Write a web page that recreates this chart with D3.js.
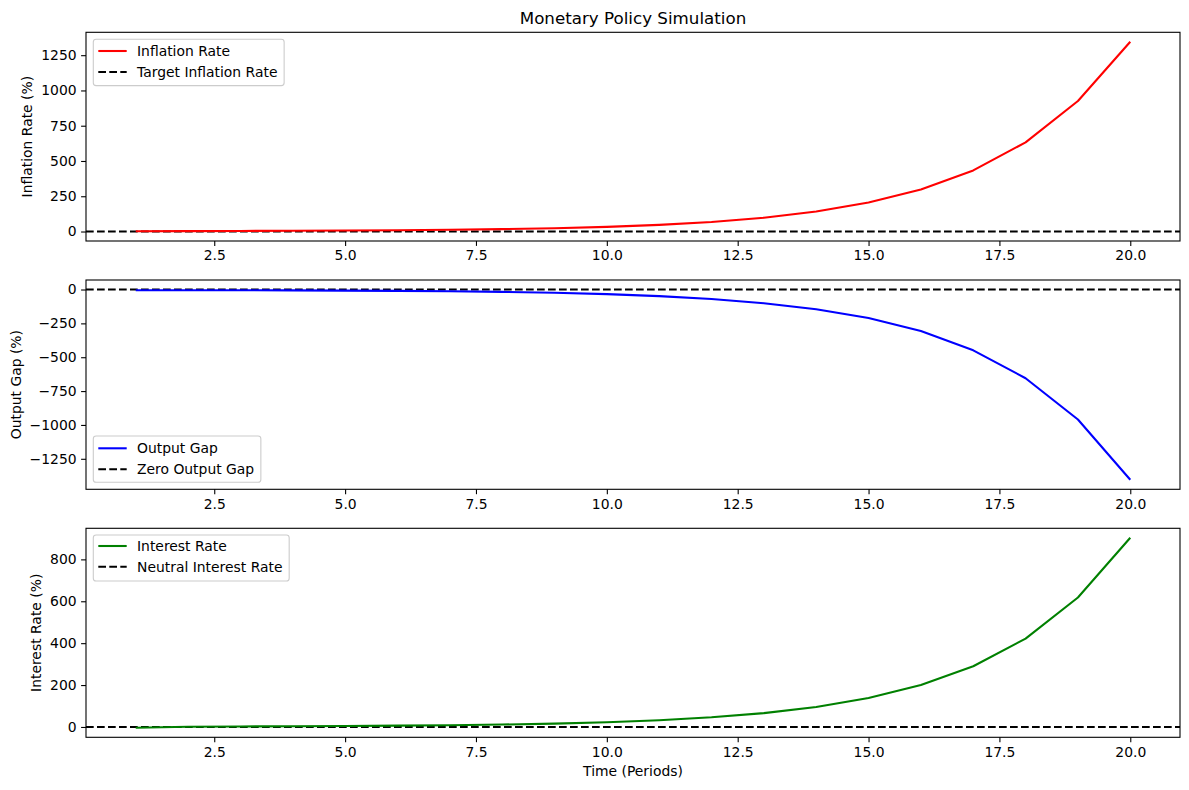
<!DOCTYPE html>
<html><head><meta charset="utf-8">
<script src="https://cdn.jsdelivr.net/npm/d3@7"></script>
<style>
body{margin:0;background:#fff;}
text{font-family:"DejaVu Sans",sans-serif;fill:#000;}
</style></head>
<body>
<svg id="chart" width="1189" height="790"></svg>
<script>
const periods = [1,2,3,4,5,6,7,8,9,10,11,12,13,14,15,16,17,18,19,20];
const inflation = [2.0,3.0,4.2,5.4,7.0,9.3,12.5,17,23.5,33,47,68,98,142,205,298,433,632,925,1345];
const outputGap = [-5,-5,-5.5,-6.5,-8,-10,-13,-17.5,-24,-34,-49,-70,-101,-146,-211,-307,-449,-655,-960,-1405];
const interest = [-4,1,2.5,3.5,4.8,6.3,8.5,11.5,16,22.5,32,46,66,95,138,200,290,422,618,903];
const targetInflation = 0;
const zeroGap = 0;
const neutralRate = 0;
const xTicks = [2.5,5.0,7.5,10.0,12.5,15.0,17.5,20.0];
const yTicks1 = [0,250,500,750,1000,1250];
const yTicks2 = [0,-250,-500,-750,-1000,-1250];
const yTicks3 = [0,200,400,600,800];

const svg = d3.select("#chart");
const L = 86, R = 1180;
const panels = [
  {top:32.3,bottom:241,data:inflation,ref:targetInflation,color:"#ff0000",ticks:yTicks1,
   ylabel:"Inflation Rate (%)",ylx:32.3,names:["Inflation Rate","Target Inflation Rate"],
   leg:{y:39.3,r1:51,r2:72}},
  {top:280,bottom:489.3,data:outputGap,ref:zeroGap,color:"#0000ff",ticks:yTicks2,
   ylabel:"Output Gap (%)",ylx:20.5,names:["Output Gap","Zero Output Gap"],
   leg:{y:436,r1:448.3,r2:469.3}},
  {top:528.3,bottom:737.3,data:interest,ref:neutralRate,color:"#008000",ticks:yTicks3,
   ylabel:"Interest Rate (%)",ylx:40.7,names:["Interest Rate","Neutral Interest Rate"],
   leg:{y:535,r1:546,r2:566.7}}
];

const xMin = d3.min(periods), xMax = d3.max(periods);
const xPad = (xMax - xMin)*0.05;
const x = d3.scaleLinear().domain([xMin - xPad, xMax + xPad]).range([L, R]);

panels.forEach(p => {
  const lo = Math.min(d3.min(p.data), p.ref), hi = Math.max(d3.max(p.data), p.ref);
  const pad = (hi - lo)*0.05;
  const y = d3.scaleLinear().domain([lo - pad, hi + pad]).range([p.bottom, p.top]);
  const g = svg.append("g");

  // x axis
  const xa = g.append("g").attr("transform",`translate(0,${p.bottom})`)
    .call(d3.axisBottom(x).tickValues(xTicks).tickFormat(d3.format(".1f")).tickSize(4.9).tickPadding(4.5));
  xa.select(".domain").remove();
  xa.selectAll("line").attr("stroke","#000").attr("stroke-width",1.1);
  xa.selectAll("text").attr("font-size","13.9px").attr("fill","#000").attr("font-family","DejaVu Sans");

  // y axis
  const ya = g.append("g").attr("transform",`translate(${L},0)`)
    .call(d3.axisLeft(y).tickValues(p.ticks).tickFormat(d3.format("d")).tickSize(4.9).tickPadding(4.5));
  ya.select(".domain").remove();
  ya.selectAll("line").attr("stroke","#000").attr("stroke-width",1.1);
  ya.selectAll("text").attr("font-size","13.9px").attr("fill","#000").attr("font-family","DejaVu Sans");

  // reference line
  g.append("line").attr("x1",L).attr("x2",R).attr("y1",y(p.ref)).attr("y2",y(p.ref))
    .attr("stroke","#000").attr("stroke-width",2.08).attr("stroke-dasharray","7.7,3.3");

  // data line
  g.append("path").datum(periods.map((t,i)=>[t,p.data[i]]))
    .attr("fill","none").attr("stroke",p.color).attr("stroke-width",2.08).attr("stroke-linejoin","round")
    .attr("d", d3.line().x(d=>x(d[0])).y(d=>y(d[1])));

  // frame
  g.append("rect").attr("x",L).attr("y",p.top).attr("width",R-L).attr("height",p.bottom-p.top)
    .attr("fill","none").attr("stroke","#000").attr("stroke-width",1.1);

  // y label
  g.append("text").attr("transform",`translate(${p.ylx},${(p.top+p.bottom)/2}) rotate(-90)`)
    .attr("text-anchor","middle").attr("font-size","13.9px").text(p.ylabel);

  // legend
  const lg = g.append("g");
  const box = lg.append("rect").attr("x",93.3).attr("y",p.leg.y).attr("height",p.leg.r2-p.leg.r1+25.3)
    .attr("rx",2.8).attr("fill","#fff").attr("fill-opacity",0.8).attr("stroke","#cccccc").attr("stroke-width",1.1);
  lg.append("line").attr("x1",98.3).attr("x2",126.7).attr("y1",p.leg.r1).attr("y2",p.leg.r1)
    .attr("stroke",p.color).attr("stroke-width",2.08);
  lg.append("line").attr("x1",98.3).attr("x2",126.7).attr("y1",p.leg.r2).attr("y2",p.leg.r2)
    .attr("stroke","#000").attr("stroke-width",2.08).attr("stroke-dasharray","7.7,3.3");
  let maxR = 0;
  [p.leg.r1,p.leg.r2].forEach((ry,i)=>{
    const t = lg.append("text").attr("x",137).attr("y",ry).attr("dy","0.36em").attr("font-size","13.9px").text(p.names[i]);
    maxR = Math.max(maxR, 137 + t.node().getComputedTextLength());
  });
  box.attr("width", maxR + 6.7 - 93.3);
});

svg.append("text").attr("x",(L+R)/2).attr("y",24).attr("text-anchor","middle")
  .attr("font-size","16.7px").text("Monetary Policy Simulation");
svg.append("text").attr("x",(L+R)/2).attr("y",776).attr("text-anchor","middle")
  .attr("font-size","13.9px").text("Time (Periods)");
</script>
</body></html>
